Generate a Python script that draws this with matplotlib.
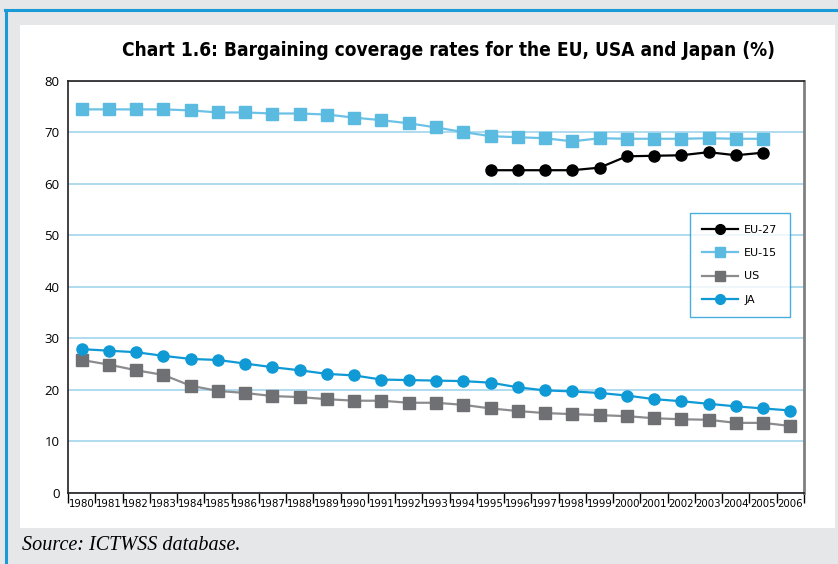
import matplotlib
matplotlib.use("Agg")
import matplotlib.pyplot as plt
from matplotlib.patches import Rectangle
from matplotlib.lines import Line2D
import numpy as np

years = list(range(1980, 2007))

eu27_years = list(range(1995, 2006))
eu27 = [62.6, 62.6, 62.6, 62.6, 63.1, 65.3, 65.4, 65.5, 66.1, 65.5, 66.0]

eu15_years = list(range(1980, 2006))
eu15 = [74.4, 74.4, 74.4, 74.4, 74.2, 73.8, 73.8, 73.6, 73.6, 73.4, 72.8, 72.3, 71.7,
        70.9, 70.0, 69.2, 69.0, 68.8, 68.2, 68.8, 68.7, 68.7, 68.7, 68.8, 68.7, 68.7]

us = [25.8, 24.9, 23.8, 22.9, 20.8, 19.8, 19.4, 18.8, 18.6, 18.2, 17.9, 17.9, 17.5,
      17.5, 17.1, 16.4, 15.9, 15.5, 15.3, 15.1, 14.9, 14.5, 14.3, 14.2, 13.6, 13.6, 13.0]

ja = [27.9, 27.6, 27.3, 26.6, 26.0, 25.8, 25.1, 24.4, 23.8, 23.1, 22.8, 22.0, 21.9,
      21.8, 21.7, 21.4, 20.5, 19.9, 19.7, 19.4, 18.9, 18.2, 17.8, 17.3, 16.8, 16.4, 16.0]

grey_bg = "#e6e7e8"
frame_blue = "#1a9ad6"
grid_blue = "#a9d9ee"

W, H = 838, 564
fig = plt.figure(figsize=(W / 100, H / 100), dpi=100, facecolor=grey_bg)

# frame: blue top/left border and white panel
fig.add_artist(Line2D([5 / W, 1], [1 - 10 / H, 1 - 10 / H], color=frame_blue, lw=2.2))
fig.add_artist(Line2D([6 / W, 6 / W], [0, 1 - 10 / H], color=frame_blue, lw=2.2))
fig.add_artist(Rectangle((20 / W, 1 - 528 / H), (835 - 20) / W, (528 - 25) / H,
                         transform=fig.transFigure, facecolor="white", edgecolor="none", zorder=0))

ax = fig.add_axes([68 / W, 1 - 493 / H, (804 - 68) / W, (493 - 80.5) / H])
ax.set_facecolor("white")

idx = {y: i for i, y in enumerate(years)}
x_all = np.array([idx[y] for y in years])
x_eu15 = np.array([idx[y] for y in eu15_years])
x_eu27 = np.array([idx[y] for y in eu27_years])

ax.plot(x_eu27, eu27, color="black", lw=1.6, marker="o", ms=8, label="EU-27", zorder=5)
ax.plot(x_eu15, eu15, color="#6cc2e6", lw=1.6, marker="s", ms=8.5, mfc="#5bbae0", mec="#5bbae0",
        label="EU-15", zorder=4)
ax.plot(x_all, us, color="#8c8c8f", lw=1.6, marker="s", ms=8.5, mfc="#6f7073", mec="#6f7073",
        label="US", zorder=4)
ax.plot(x_all, ja, color="#0f9ad6", lw=1.6, marker="o", ms=8, label="JA", zorder=5)

ax.set_xlim(-0.5, len(years) - 0.5)
ax.set_ylim(0, 80)
ax.set_yticks(range(0, 81, 10))
ax.tick_params(axis="y", length=0, labelsize=9.5, pad=6)
for lab in ax.get_yticklabels():
    lab.set_fontfamily("Open Sans")

ax.set_xticks(x_all)
ax.set_xticklabels([str(y) for y in years], fontsize=8.2, fontstretch="condensed", family="DejaVu Sans")
ax.set_xticks(np.arange(-0.5, len(years)), minor=True)
ax.tick_params(axis="x", which="major", length=0, pad=4)
ax.tick_params(axis="x", which="minor", length=7, width=1, direction="out")

ax.yaxis.grid(True, color=grid_blue, lw=1.3)
ax.set_axisbelow(True)
for s in ["top", "left", "bottom"]:
    ax.spines[s].set_color("#231f20")
    ax.spines[s].set_linewidth(1.2)
ax.spines["right"].set_color("#808080")
ax.spines["right"].set_linewidth(2)

leg = ax.legend(loc="upper left", bbox_to_anchor=(0.845, 0.68), fontsize=8, frameon=True,
                fancybox=False, borderpad=1.1, labelspacing=1.2, handlelength=3.2,
                handletextpad=0.6, borderaxespad=0)
leg.get_frame().set_edgecolor(frame_blue)
leg.get_frame().set_linewidth(1)
for h in leg.legend_handles:
    h.set_markersize(7)

fig.text(448 / W, 1 - 50 / H, "Chart 1.6: Bargaining coverage rates for the EU, USA and Japan (%)",
         ha="center", va="center", fontsize=13.7, fontweight="bold", fontstretch="condensed",
         family="DejaVu Sans")
fig.text(22 / W, 1 - 546 / H, "Source: ICTWSS database.", ha="left", va="center",
         fontsize=14.5, style="italic", family="Liberation Serif")

fig.savefig("out.png", dpi=100, facecolor=grey_bg)
